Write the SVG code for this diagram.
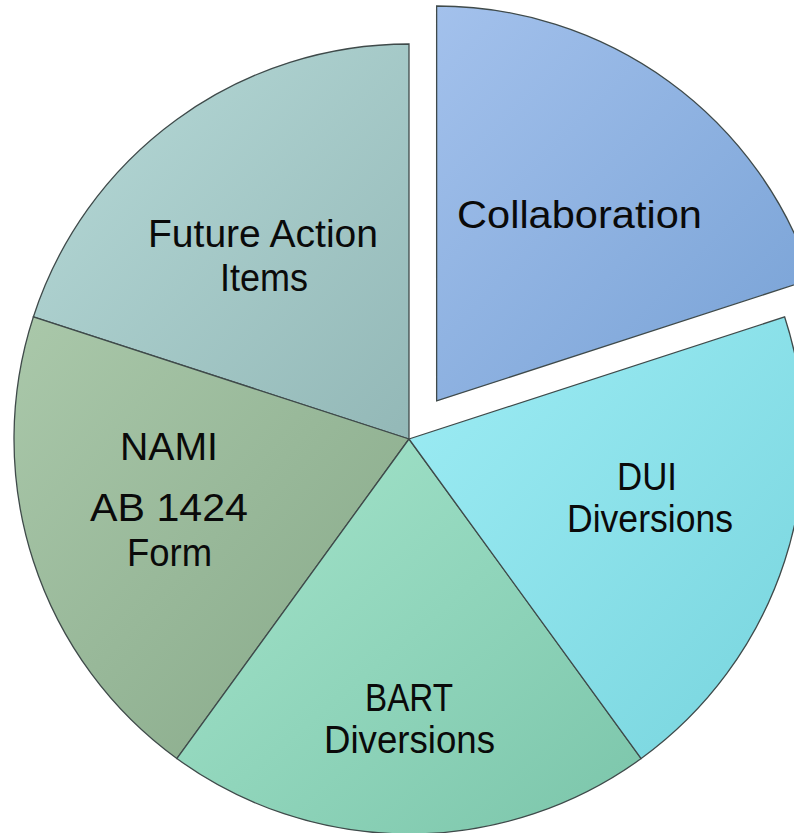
<svg xmlns="http://www.w3.org/2000/svg" width="794" height="833" viewBox="0 0 794 833">
  <defs>
    <linearGradient id="gCollab" x1="0" y1="0" x2="1" y2="1">
      <stop offset="0" stop-color="#a3c1ec"/>
      <stop offset="1" stop-color="#77a1d5"/>
    </linearGradient>
    <linearGradient id="gDui" x1="0" y1="0" x2="1" y2="1">
      <stop offset="0" stop-color="#9eedf5"/>
      <stop offset="1" stop-color="#77d4dd"/>
    </linearGradient>
    <linearGradient id="gBart" x1="0" y1="0" x2="1" y2="1">
      <stop offset="0" stop-color="#a5e5cc"/>
      <stop offset="1" stop-color="#7bc5aa"/>
    </linearGradient>
    <linearGradient id="gNami" x1="0" y1="0" x2="1" y2="1">
      <stop offset="0" stop-color="#aac8aa"/>
      <stop offset="1" stop-color="#86a888"/>
    </linearGradient>
    <linearGradient id="gFuture" x1="0" y1="0" x2="1" y2="1">
      <stop offset="0" stop-color="#b7dad8"/>
      <stop offset="1" stop-color="#93b8b7"/>
    </linearGradient>
  </defs>
  <style>
    .slice { stroke: #3f4a4a; stroke-width: 1.3; stroke-linejoin: miter; }
    .lbl { font-family: "Liberation Sans", "DejaVu Sans", sans-serif; font-size: 38px; fill: #0a0a0a; }
  </style>
  <rect width="794" height="833" fill="#ffffff"/>

  <g id="future">
    <path class="slice" fill="url(#gFuture)" d="M409,439 L409,44 A395,395 0 0 0 33.33,316.94 Z"/>
    <text class="lbl" x="148" y="247" textLength="230" lengthAdjust="spacingAndGlyphs">Future Action</text>
    <text class="lbl" x="220" y="291" textLength="88" lengthAdjust="spacingAndGlyphs">Items</text>
  </g>

  <g id="nami">
    <path class="slice" fill="url(#gNami)" d="M409,439 L33.33,316.94 A395,395 0 0 0 176.82,758.56 Z"/>
    <text class="lbl" x="120" y="460" textLength="98" lengthAdjust="spacingAndGlyphs">NAMI</text>
    <text class="lbl" x="90" y="521" textLength="158" lengthAdjust="spacingAndGlyphs">AB 1424</text>
    <text class="lbl" x="127" y="566" textLength="85" lengthAdjust="spacingAndGlyphs">Form</text>
  </g>

  <g id="bart">
    <path class="slice" fill="url(#gBart)" d="M409,439 L176.82,758.56 A395,395 0 0 0 641.18,758.56 Z"/>
    <text class="lbl" x="365" y="711" textLength="88" lengthAdjust="spacingAndGlyphs">BART</text>
    <text class="lbl" x="324" y="753" textLength="171" lengthAdjust="spacingAndGlyphs">Diversions</text>
  </g>

  <g id="dui">
    <path class="slice" fill="url(#gDui)" d="M409,439 L641.18,758.56 A395,395 0 0 0 784.67,316.94 Z"/>
    <text class="lbl" x="617" y="490" textLength="60" lengthAdjust="spacingAndGlyphs">DUI</text>
    <text class="lbl" x="567" y="532" textLength="166" lengthAdjust="spacingAndGlyphs">Diversions</text>
  </g>

  <g id="collaboration">
    <path class="slice" fill="url(#gCollab)" d="M436.63,400.98 L436.63,5.98 A395,395 0 0 1 812.30,278.92 Z"/>
    <text class="lbl" x="457" y="228" textLength="245" lengthAdjust="spacingAndGlyphs">Collaboration</text>
  </g>

  <g id="connectors"></g>
</svg>
